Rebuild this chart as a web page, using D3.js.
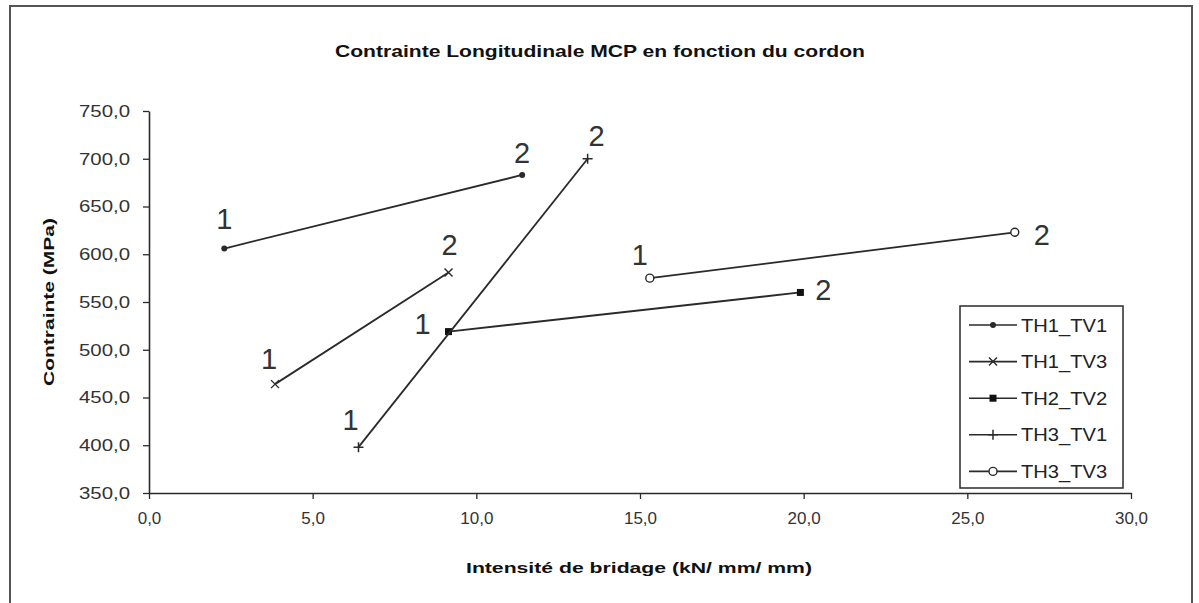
<!DOCTYPE html>
<html>
<head>
<meta charset="utf-8">
<script src="https://cdn.jsdelivr.net/npm/d3@7"></script>
<style>
  html, body { margin: 0; padding: 0; background: #fff; }
  svg { display: block; font-family: "Liberation Sans", Arial, sans-serif; }
</style>
</head>
<body>
<svg id="chart" width="1199" height="603"></svg>
<script>
// Series: bead test configurations
const seriesNames = ["TH1_TV1", "TH1_TV3", "TH2_TV2", "TH3_TV1", "TH3_TV3"];
// Restraint intensity (kN/mm/mm) for bead 1 and bead 2
const intensite = [
  [2.3, 11.4],
  [3.85, 9.15],
  [9.15, 19.9],
  [6.4, 13.4],
  [15.3, 26.45]
];
// Longitudinal stress (MPa) for bead 1 and bead 2
const contrainte = [
  [606, 683],
  [464, 581],
  [519, 560],
  [398, 700],
  [575, 623]
];
const pointLabels = ["1", "2"];
const xTicks = [0, 5, 10, 15, 20, 25, 30];
const yTicks = [350, 400, 450, 500, 550, 600, 650, 700, 750];

// Marker type per series
const markerTypes = ["dot", "cross", "square", "plus", "circle"];
// Offset of each "1"/"2" label from its point: [dx, dy]
const labelOffsets = [
  [[0, -20], [0, -12]],
  [[-6, -15], [1, -17]],
  [[-26, 2], [23, 8]],
  [[-8, -17], [9, -13]],
  [[-10, -13], [27, 13]]
];

const svg = d3.select("#chart");
const ink = "#2a2a2a";

const locale = d3.formatLocale({ decimal: ",", thousands: " ", grouping: [3], currency: ["", " €"] });
const fmt = locale.format(".1f");

const x = d3.scaleLinear().domain([0, 30]).range([149, 1131]);
const y = d3.scaleLinear().domain([350, 750]).range([493, 111]);

// widen text horizontally by a factor
function widen(sel, k) {
  sel.each(function () {
    const w = this.getComputedTextLength();
    d3.select(this).attr("textLength", w * k).attr("lengthAdjust", "spacingAndGlyphs");
  });
}

// outer frame
svg.append("rect")
  .attr("x", 10).attr("y", 6).attr("width", 1182).attr("height", 620)
  .attr("fill", "#fff").attr("stroke", "#555").attr("stroke-width", 2);

// title
svg.append("text")
  .attr("x", 600).attr("y", 57)
  .attr("text-anchor", "middle")
  .attr("font-weight", "bold").attr("font-size", 17)
  .attr("fill", "#111")
  .attr("textLength", 530).attr("lengthAdjust", "spacingAndGlyphs")
  .text("Contrainte Longitudinale MCP en fonction du cordon");

// axes
const yAxis = svg.append("g")
  .attr("transform", `translate(${x(0)},0)`)
  .call(d3.axisLeft(y).tickValues(yTicks).tickFormat(fmt).tickSize(6).tickPadding(13).tickSizeOuter(0));
const xAxis = svg.append("g")
  .attr("transform", `translate(0,${y(350)})`)
  .call(d3.axisBottom(x).tickValues(xTicks).tickFormat(fmt).tickSize(6).tickPadding(13).tickSizeOuter(0));

[yAxis, xAxis].forEach(g => {
  g.select(".domain").attr("stroke", ink).attr("stroke-width", 1.6);
  g.selectAll(".tick line").attr("stroke", ink).attr("stroke-width", 1.3);
  g.selectAll(".tick text")
    .attr("fill", "#333")
    .attr("font-size", 17)
    .attr("font-family", "Liberation Sans, Arial, sans-serif");
});
widen(yAxis.selectAll(".tick text"), 1.2);

// axis titles
svg.append("text")
  .attr("transform", "translate(54,302) rotate(-90)")
  .attr("text-anchor", "middle")
  .attr("font-weight", "bold").attr("font-size", 15)
  .attr("fill", "#111")
  .attr("textLength", 168).attr("lengthAdjust", "spacingAndGlyphs")
  .text("Contrainte (MPa)");

svg.append("text")
  .attr("x", 639).attr("y", 573)
  .attr("text-anchor", "middle")
  .attr("font-weight", "bold").attr("font-size", 15)
  .attr("fill", "#111")
  .attr("textLength", 346).attr("lengthAdjust", "spacingAndGlyphs")
  .text("Intensité de bridage (kN/ mm/ mm)");

// marker drawing
function drawMarker(g, type, cx, cy) {
  if (type === "dot") {
    g.append("circle").attr("cx", cx).attr("cy", cy).attr("r", 3).attr("fill", ink);
  } else if (type === "square") {
    g.append("rect").attr("x", cx - 3.5).attr("y", cy - 3.5).attr("width", 7).attr("height", 7).attr("fill", "#111");
  } else if (type === "circle") {
    g.append("circle").attr("cx", cx).attr("cy", cy).attr("r", 4).attr("fill", "#fff").attr("stroke", ink).attr("stroke-width", 1.4);
  } else if (type === "cross") {
    g.append("path").attr("d", `M${cx - 4},${cy - 4}L${cx + 4},${cy + 4}M${cx - 4},${cy + 4}L${cx + 4},${cy - 4}`)
      .attr("stroke", ink).attr("stroke-width", 1.4);
  } else if (type === "plus") {
    g.append("path").attr("d", `M${cx},${cy - 5}L${cx},${cy + 5}M${cx - 5},${cy}L${cx + 5},${cy}`)
      .attr("stroke", ink).attr("stroke-width", 1.5);
  }
}

const line = d3.line().x(d => x(d[0])).y(d => y(d[1]));

seriesNames.forEach((name, i) => {
  const pts = intensite[i].map((v, j) => [v, contrainte[i][j]]);
  const g = svg.append("g").attr("class", "series");
  g.append("path").attr("d", line(pts)).attr("fill", "none").attr("stroke", ink).attr("stroke-width", 1.8);
  pts.forEach((p, j) => {
    drawMarker(g, markerTypes[i], x(p[0]), y(p[1]));
    const off = labelOffsets[i][j];
    g.append("text")
      .attr("x", x(p[0]) + off[0])
      .attr("y", y(p[1]) + off[1])
      .attr("text-anchor", "middle")
      .attr("font-size", 29)
      .attr("fill", "#333")
      .text(pointLabels[j]);
  });
});

// legend
const legend = svg.append("g");
legend.append("rect")
  .attr("x", 960).attr("y", 306).attr("width", 163).attr("height", 182)
  .attr("fill", "#fff").attr("stroke", ink).attr("stroke-width", 1.5);
seriesNames.forEach((name, i) => {
  const ly = 325 + i * 36.6;
  legend.append("line").attr("x1", 969).attr("x2", 1017).attr("y1", ly).attr("y2", ly)
    .attr("stroke", ink).attr("stroke-width", 1.6);
  drawMarker(legend, markerTypes[i], 993, ly);
  legend.append("text")
    .attr("x", 1021).attr("y", ly + 6.5)
    .attr("font-size", 18).attr("fill", "#222")
    .text(name);
});
widen(legend.selectAll("text"), 1.12);
</script>
</body>
</html>
